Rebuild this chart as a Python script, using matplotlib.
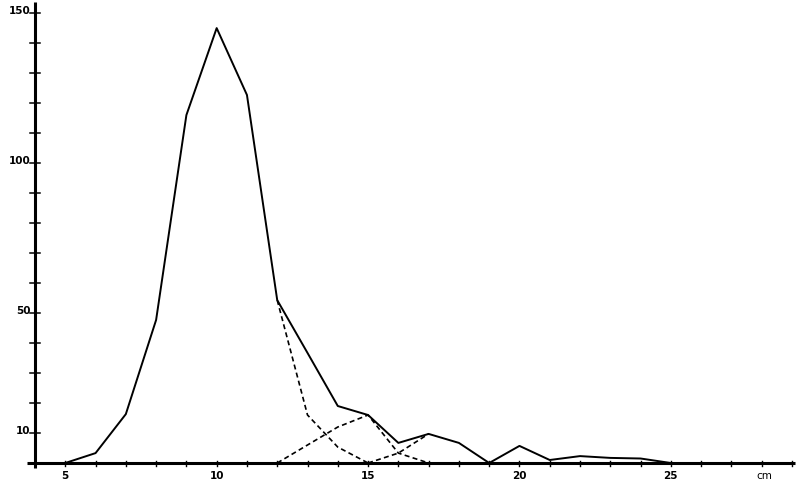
import matplotlib.pyplot as plt
import numpy as np

# Dados (comprimento em cm, frequência)
x_total = [5, 6, 7, 8, 9, 10, 11, 12, 13, 14, 15, 16, 17, 18, 19, 20, 21, 22, 23, 24, 25]
y_total = [0, 3.3, 16.3, 47.7, 116, 145, 122.7, 54.3, 36.7, 19, 16, 6.7, 9.7, 6.7, 0, 5.7, 1, 2.3, 1.7, 1.5, 0]

# componentes (linhas tracejadas)
x_comp1 = [12, 13, 14, 15]
y_comp1 = [54.3, 16, 5.3, 0]
x_comp2 = [12, 13, 14, 15, 16, 17]
y_comp2 = [0, 6, 12, 16, 3.3, 0]
x_comp3 = [15, 16, 17]
y_comp3 = [0, 3.3, 9.7]

x_labels = [5, 10, 15, 20, 25]
y_labels = [10, 50, 100, 150]

fig = plt.figure(figsize=(8, 4.82), dpi=100)
ax = fig.add_axes([35/800, 19/482, 760/800, 461/482])
ax.set_xlim(4, 29.1)
ax.set_ylim(0, 153.7)
for s in ax.spines.values():
    s.set_visible(False)
ax.set_xticks([])
ax.set_yticks([])

# eixos
ax.plot([3.75, 29.1], [0, 0], color="black", lw=2.2, clip_on=False, solid_capstyle="butt")
ax.plot([4, 4], [-1.7, 153.7], color="black", lw=2.2, clip_on=False, solid_capstyle="butt")

# marcas dos eixos
for xt in range(5, 30):
    ax.plot([xt, xt], [-1.0, 0.7], color="black", lw=1.0, clip_on=False)
for yt in range(10, 151, 10):
    ax.plot([3.85, 4.15], [yt, yt], color="black", lw=1.1, clip_on=False)

for xl in x_labels:
    ax.text(xl, -4.4, str(xl), ha="center", va="center", fontsize=7.5, fontweight="bold")
ax.text(28.1, -4.4, "cm", ha="center", va="center", fontsize=7.5)
for yl in y_labels:
    ax.text(3.85, yl + 0.8, str(yl), ha="right", va="center", fontsize=7.5, fontweight="bold")

ax.plot(x_total, y_total, color="black", lw=1.4, clip_on=False)
ax.plot(x_comp1, y_comp1, color="black", lw=1.2, ls=(0, (3, 2)))
ax.plot(x_comp2, y_comp2, color="black", lw=1.2, ls=(0, (3, 2)))
ax.plot(x_comp3, y_comp3, color="black", lw=1.2, ls=(0, (3, 2)))

fig.savefig("out.png", dpi=100)
plt.close()
